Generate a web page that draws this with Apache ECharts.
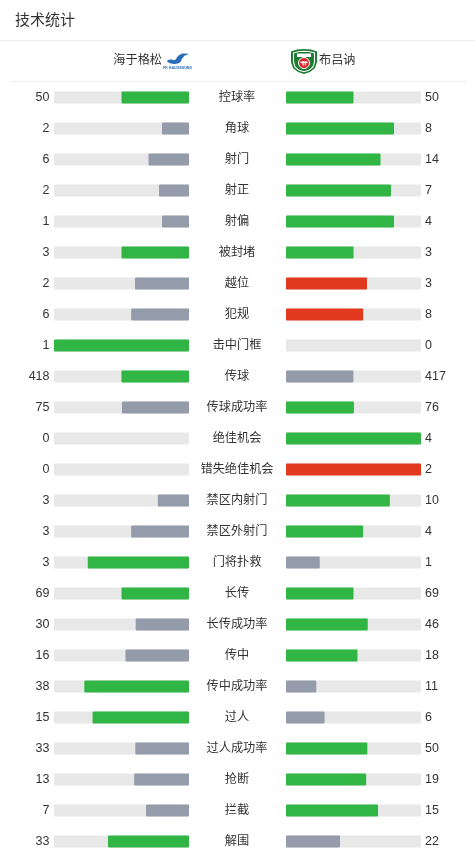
<!DOCTYPE html>
<html>
<head>
<meta charset="utf-8">
<script src="https://cdn.jsdelivr.net/npm/echarts@6/dist/echarts.min.js"></script>
<style>
html,body{margin:0;padding:0;background:#fff;}
#chart{width:475px;height:857px;}
</style>
</head>
<body>
<div id="chart"></div>
<script>
var categories = ['控球率','角球','射门','射正','射偏','被封堵','越位','犯规','击中门框','传球','传球成功率','绝佳机会','错失绝佳机会','禁区内射门','禁区外射门','门将扑救','长传','长传成功率','传中','传中成功率','过人','过人成功率','抢断','拦截','解围'];
var homeValues = [50,2,6,2,1,3,2,6,1,418,75,0,0,3,3,3,69,30,16,38,15,33,13,7,33];
var awayValues = [50,8,14,7,4,3,3,8,0,417,76,4,2,10,4,1,69,46,18,11,6,50,19,15,22];
var negativeCats = ['越位','犯规','错失绝佳机会'];
var homeName = '海于格松';
var awayName = '布吕讷';
var titleText = '技术统计';

var GREEN = '#31b545', GREY = '#949cac', RED = '#e1391d', TRACK = '#e8e8e8';
var FONT = '"Liberation Sans", "Noto Sans CJK SC", sans-serif';

function colorFor(mine, other, cat) {
  if (mine > other) return negativeCats.indexOf(cat) >= 0 ? RED : GREEN;
  if (mine === other) return GREEN;
  return GREY;
}
var homeData = categories.map(function (c, i) {
  var t = homeValues[i] + awayValues[i];
  return { value: t ? homeValues[i] / t : 0, itemStyle: { color: colorFor(homeValues[i], awayValues[i], c) } };
});
var awayData = categories.map(function (c, i) {
  var t = homeValues[i] + awayValues[i];
  return { value: t ? awayValues[i] / t : 0, itemStyle: { color: colorFor(awayValues[i], homeValues[i], c) } };
});

var chart = echarts.init(document.getElementById('chart'), null, { renderer: 'canvas' });
var gridTop = 82, gridH = 775;
var hiddenAxis = { axisLine: { show: false }, axisTick: { show: false }, splitLine: { show: false } };
var labelBase = { color: '#333', fontSize: 12.5, fontFamily: FONT };
var catLabel = { color: '#333', fontSize: 12.2, fontFamily: FONT };

chart.setOption({
  animation: false,
  backgroundColor: '#fff',
  grid: [
    { left: 54, width: 135, top: gridTop, height: gridH },
    { left: 286, width: 135, top: gridTop, height: gridH }
  ],
  xAxis: [
    { type: 'value', gridIndex: 0, min: 0, max: 1, inverse: true, show: false },
    { type: 'value', gridIndex: 1, min: 0, max: 1, show: false }
  ],
  yAxis: [
    Object.assign({ type: 'category', gridIndex: 0, position: 'left', inverse: true, data: categories,
      axisLabel: Object.assign({ margin: 4.5, formatter: function (v, i) { return String(homeValues[i]); } }, labelBase) }, hiddenAxis),
    Object.assign({ type: 'category', gridIndex: 1, position: 'right', inverse: true, data: categories,
      axisLabel: Object.assign({ margin: 4, formatter: function (v, i) { return String(awayValues[i]); } }, labelBase) }, hiddenAxis),
    Object.assign({ type: 'category', gridIndex: 1, position: 'left', inverse: true, data: categories,
      axisLabel: Object.assign({ margin: 49, align: 'center' }, catLabel) }, hiddenAxis)
  ],
  series: [
    { type: 'bar', xAxisIndex: 0, yAxisIndex: 0, data: homeData, barWidth: 12,
      showBackground: true, backgroundStyle: { color: TRACK, borderRadius: 1 }, itemStyle: { borderRadius: 1 } },
    { type: 'bar', xAxisIndex: 1, yAxisIndex: 1, data: awayData, barWidth: 12,
      showBackground: true, backgroundStyle: { color: TRACK, borderRadius: 1 }, itemStyle: { borderRadius: 1 } }
  ],
  graphic: [
    { type: 'text', x: 15, y: 20.5, style: { text: titleText, fill: '#333', fontSize: 15, fontFamily: FONT, verticalAlign: 'middle' } },
    { type: 'line', shape: { x1: 0, y1: 40.5, x2: 475, y2: 40.5 }, style: { stroke: '#eeeeee', lineWidth: 1 } },
    { type: 'line', shape: { x1: 10, y1: 81.5, x2: 466, y2: 81.5 }, style: { stroke: '#eeeeee', lineWidth: 1 } },
    { type: 'text', x: 162, y: 61, style: { text: homeName, fill: '#333', fontSize: 12.2, fontFamily: FONT, align: 'right', verticalAlign: 'middle' } },
    { type: 'text', x: 319, y: 61, style: { text: awayName, fill: '#333', fontSize: 12.2, fontFamily: FONT, align: 'left', verticalAlign: 'middle' } },
    // Haugesund logo
    { type: 'polygon', shape: { smooth: 0.3, points: [[167,61],[170.5,59.5],[175,60],[178,56],[183,53.5],[189,54],[185,55.5],[182,59],[180,62.5],[175,64],[171,63.5],[168.5,62.5]] }, style: { fill: '#2a6ebb' } },
    { type: 'text', x: 177.5, y: 67.5, style: { text: 'FK HAUGESUND', fill: '#2a6ebb', fontSize: 3.6, fontFamily: FONT, align: 'center', verticalAlign: 'middle', fontWeight: 'bold' } },
    // Brann logo
    { type: 'polygon', shape: { points: [[291,51.5],[297,49.5],[304,49],[311,49.5],[317,51.5],[317,62],[315,68],[310,72],[304,74],[298,72],[293,68],[291,62]] }, style: { fill: '#1d7a33' } },
    { type: 'polygon', shape: { points: [[293.5,53],[299,51.5],[304,51.2],[309,51.5],[314.5,53],[314.5,62],[313,67],[309,70.3],[304,71.8],[299,70.3],[295,67],[293.5,62]] }, style: { fill: 'none', stroke: '#ffffff', lineWidth: 1.1 } },
    { type: 'rect', shape: { x: 297, y: 53.5, width: 14, height: 3.5 }, style: { fill: '#ffffff' } },
    { type: 'circle', shape: { cx: 304, cy: 63, r: 5.5 }, style: { fill: '#d8262b', stroke: '#ffffff', lineWidth: 1 } },
    { type: 'rect', shape: { x: 300.5, y: 61.5, width: 7, height: 1.6 }, style: { fill: '#ffffff' } },
    { type: 'rect', shape: { x: 302.5, y: 61.5, width: 1.2, height: 4 }, style: { fill: '#ffffff' } },
    { type: 'rect', shape: { x: 304.8, y: 61.5, width: 1.2, height: 4 }, style: { fill: '#ffffff' } }
  ]
});
</script>
</body>
</html>
